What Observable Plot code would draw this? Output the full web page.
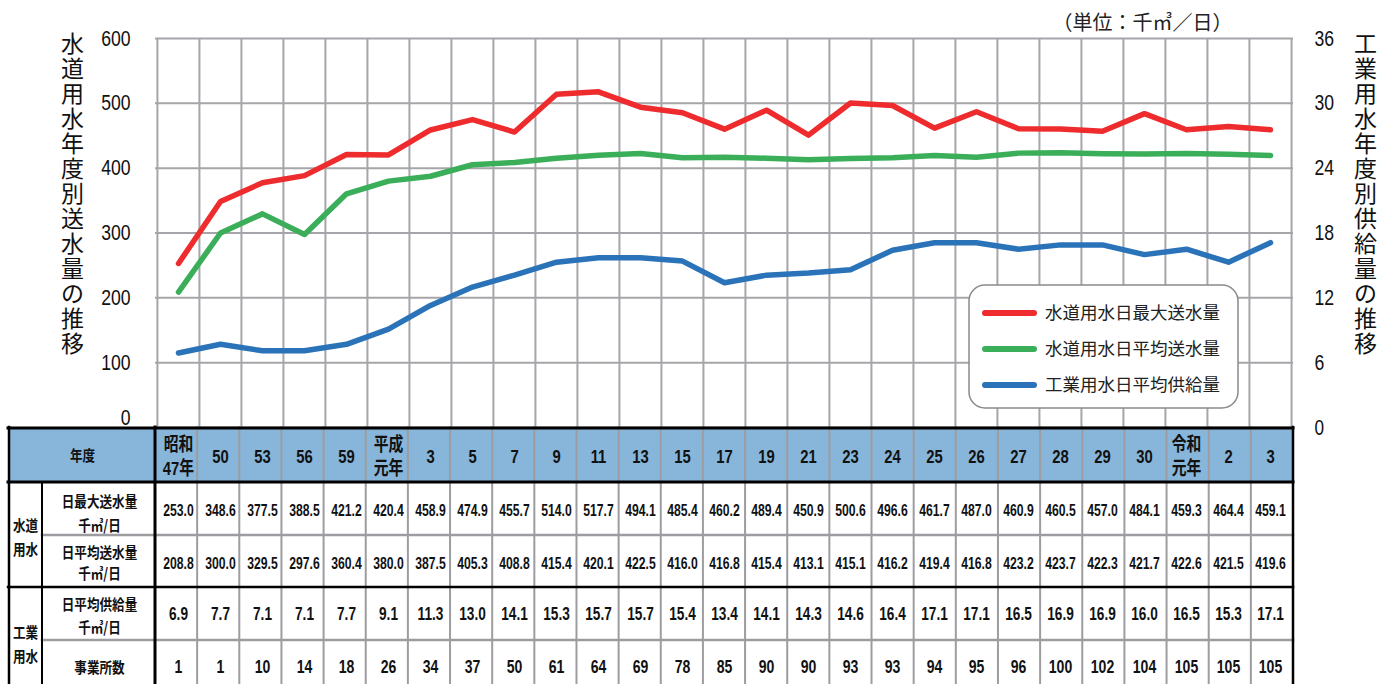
<!DOCTYPE html>
<html><head><meta charset="utf-8">
<script src="https://cdn.jsdelivr.net/npm/d3@7"></script>
<script src="https://cdn.jsdelivr.net/npm/@observablehq/plot@0.6"></script>
<style>body{margin:0;background:#fff} #chart{width:1392px;height:684px;overflow:hidden}</style>
</head><body><div id="chart"></div>
<script>
// ---- data ----
const yearKeys = ["昭和47","昭和50","昭和53","昭和56","昭和59","平成元","平成3","平成5","平成7","平成9","平成11","平成13","平成15","平成17","平成19","平成21","平成23","平成24","平成25","平成26","平成27","平成28","平成29","平成30","令和元","令和2","令和3"];
const yearLabels = ["昭和\n47年","50","53","56","59","平成\n元年","3","5","7","9","11","13","15","17","19","21","23","24","25","26","27","28","29","30","令和\n元年","2","3"];
const maxSupply = [253.0,348.6,377.5,388.5,421.2,420.4,458.9,474.9,455.7,514.0,517.7,494.1,485.4,460.2,489.4,450.9,500.6,496.6,461.7,487.0,460.9,460.5,457.0,484.1,459.3,464.4,459.1];
const avgSupply = [208.8,300.0,329.5,297.6,360.4,380.0,387.5,405.3,408.8,415.4,420.1,422.5,416.0,416.8,415.4,413.1,415.1,416.2,419.4,416.8,423.2,423.7,422.3,421.7,422.6,421.5,419.6];
const industrial = [6.9,7.7,7.1,7.1,7.7,9.1,11.3,13.0,14.1,15.3,15.7,15.7,15.4,13.4,14.1,14.3,14.6,16.4,17.1,17.1,16.5,16.9,16.9,16.0,16.5,15.3,17.1];
const facilities = [1,1,10,14,18,26,34,37,50,61,64,69,78,85,90,90,93,93,94,95,96,100,102,104,105,105,105];
const seriesNames = ["水道用水日最大送水量","水道用水日平均送水量","工業用水日平均供給量"];
const seriesColors = ["#ee2b2d","#3bae5a","#2b73b9"];
const leftTicks = [0,100,200,300,400,500,600];
const rightTicks = [0,6,12,18,24,30,36];
const leftTitle = "水道用水年度別送水量の推移";
const rightTitle = "工業用水年度別供給量の推移";
const unitText = "（単位：千㎥／日）";
const rowLabels = ["日最大送水量\n千㎥/日","日平均送水量\n千㎥/日","日平均供給量\n千㎥/日","事業所数"];
const groupLabels = ["水道\n用水","工業\n用水"];
const headerLabel = "年度";

// ---- layout ----
const W = 1392, H = 684, mL = 155, mR = 99, mT = 38, mB = 257;
const step = (W - mL - mR) / yearKeys.length;
const k = 600 / 36;
const NUMF = "'Liberation Sans',Arial,'Noto Sans CJK JP',sans-serif";
const CJK = "'Noto Sans CJK JP','Noto Sans',sans-serif";
const GRID = "#a6a6aa";
const frameBottom = H - mB;

const long = yearKeys.flatMap((y, i) => [
  {year: y, series: seriesNames[0], value: maxSupply[i]},
  {year: y, series: seriesNames[1], value: avgSupply[i]},
  {year: y, series: seriesNames[2], value: industrial[i] * k}
]);
const fmt1 = v => v.toFixed(1);

const rowText = (vals, f, y, size) => Plot.text(yearKeys, {
  x: d => d, text: (d, i) => f(vals[i]), frameAnchor: "bottom", dy: y - frameBottom,
  lineAnchor: "middle", textAnchor: "middle",
  fontSize: size, fontWeight: "bold", fontFamily: NUMF, fill: "#111"
});
const labelText = (txt, cx, cy, size, lh) => Plot.text([txt], {
  text: d => d, frameAnchor: "bottom-left", dx: cx - mL, dy: cy - frameBottom,
  lineAnchor: "middle", textAnchor: "middle",
  fontSize: size, fontWeight: "bold", fontFamily: CJK, fill: "#111", lineHeight: lh
});

const plot = Plot.plot({
  width: W, height: H,
  marginLeft: mL, marginRight: mR, marginTop: mT, marginBottom: mB,
  x: {type: "point", domain: yearKeys, padding: 0.5, axis: null},
  y: {domain: [0, 600], axis: null},
  color: {domain: seriesNames, range: seriesColors},
  style: {fontFamily: CJK, background: "#fff"},
  marks: [
    Plot.ruleY(leftTicks, {stroke: GRID, strokeWidth: 2}),
    Plot.ruleX(yearKeys, {x: d => d, dx: -step / 2, stroke: GRID, strokeWidth: 2}),
    Plot.ruleX([yearKeys[yearKeys.length - 1]], {x: d => d, dx: step / 2, stroke: GRID, strokeWidth: 2}),
    Plot.line(long, {x: "year", y: "value", z: "series", stroke: "series", strokeWidth: 5.5, strokeLinecap: "round", strokeLinejoin: "round"}),
    Plot.axisY(leftTicks.filter(d => d > 0), {anchor: "left", label: null, tickSize: 0, tickPadding: 25, fontSize: 22, fontFamily: NUMF, color: "#111"}),
    Plot.axisY([0], {anchor: "left", label: null, tickSize: 0, tickPadding: 25, fontSize: 22, fontFamily: NUMF, dy: -10, color: "#111"}),
    Plot.axisY(rightTicks.map(d => d * k), {anchor: "right", label: null, tickSize: 0, tickPadding: 21, fontSize: 22, fontFamily: NUMF, tickFormat: d => Math.round(d / k), color: "#111"}),
    Plot.text([leftTitle], {text: d => d.split("").join("\n"), frameAnchor: "top-left", dx: 72 - mL, dy: -4, textAnchor: "middle", lineAnchor: "top", lineHeight: 1.085, fontSize: 23, fill: "#111"}),
    Plot.text([rightTitle], {text: d => d.split("").join("\n"), frameAnchor: "top-right", dx: 72, dy: -4, textAnchor: "middle", lineAnchor: "top", lineHeight: 1.085, fontSize: 23, fill: "#111"}),
    Plot.text([unitText], {text: d => d, frameAnchor: "top-right", dx: 1142 - (W - mR), dy: 23 - mT, textAnchor: "middle", lineAnchor: "middle", fontSize: 20, fill: "#222"}),
    // table text
    Plot.text(yearKeys, {x: d => d, text: (d, i) => yearLabels[i], frameAnchor: "bottom", dy: 455 - frameBottom, lineAnchor: "middle", textAnchor: "middle", fontSize: 19, fontWeight: "bold", fontFamily: NUMF, lineHeight: 1.25, fill: "#111"}),
    rowText(maxSupply, fmt1, 510, 16.5),
    rowText(avgSupply, fmt1, 563, 16.5),
    rowText(industrial, fmt1, 614, 17.5),
    rowText(facilities, d => String(d), 667, 18),
    labelText(headerLabel, 82, 455, 15, 1.2),
    labelText(rowLabels[0], 99, 511, 15, 1.55),
    labelText(rowLabels[1], 99, 561, 15, 1.4),
    labelText(rowLabels[2], 99, 614, 15, 1.5),
    labelText(rowLabels[3], 99, 667, 15, 1.2),
    labelText(groupLabels[0], 25, 535, 15, 1.55),
    labelText(groupLabels[1], 25, 642, 15, 1.6)
  ]
});

const svg = d3.select(plot);

// ---- table structure & legend ----
const x0 = 8, xR = W - mR, yT = frameBottom, yB = H;
const under = svg.insert("g", ":first-child");
under.append("rect").attr("x", x0).attr("y", yT).attr("width", xR - x0).attr("height", 482 - yT).attr("fill", "#88b5da");
const grid = svg.append("g").attr("stroke-linecap", "square");
for (let i = 1; i < yearKeys.length; i++) {
  const xx = mL + i * step;
  grid.append("line").attr("x1", xx).attr("x2", xx).attr("y1", yT).attr("y2", yB).attr("stroke", "#9d9da1").attr("stroke-width", 2);
}
[535, 640].forEach(yy => grid.append("line").attr("x1", 42).attr("x2", xR).attr("y1", yy).attr("y2", yy).attr("stroke", "#9d9da1").attr("stroke-width", 2.5));
const black = (x1, y1, x2, y2, w) => grid.append("line").attr("x1", x1).attr("y1", y1).attr("x2", x2).attr("y2", y2).attr("stroke", "#000").attr("stroke-width", w);
black(x0, yT + 1, xR, yT + 1, 3);
black(x0, 482, xR, 482, 3);
black(x0, 587, xR, 587, 2.5);
black(x0 + 1, yT, x0 + 1, yB, 2.5);
black(xR, yT, xR, yB, 2.5);
black(mL, yT, mL, yB, 3);
black(42, 482, 42, yB, 2);

const lg = svg.append("g").attr("class", "legendbox").attr("text-anchor", "start");
lg.append("rect").attr("x", 969).attr("y", 285).attr("width", 269).attr("height", 123).attr("rx", 16).attr("fill", "#fff").attr("stroke", "#8a8a8e").attr("stroke-width", 1.5);
seriesNames.forEach((n, i) => {
  const yy = 313 + i * 36;
  lg.append("line").attr("x1", 985).attr("x2", 1034).attr("y1", yy).attr("y2", yy).attr("stroke", seriesColors[i]).attr("stroke-width", 6).attr("stroke-linecap", "round");
  lg.append("text").attr("x", 1045).attr("y", yy).attr("dy", "0.36em").attr("text-anchor", "start").attr("font-size", 17.5).attr("font-family", "'Noto Sans CJK JP',sans-serif").attr("fill", "#222").text(n);
});

document.getElementById("chart").appendChild(plot);

// ---- condense numeric / table text (narrow look of the original) ----
const box = plot.getBoundingClientRect();
function squeezeNode(node, s) {
  const tr = node.getAttribute("transform") || "";
  const xa = node.getAttribute("x");
  const xn = xa !== null && /^-?[0-9.]+$/.test(xa.trim()) ? +xa : 0;
  if (xn !== 0) {
    node.setAttribute("x", 0);
    node.querySelectorAll("tspan").forEach(t => {
      const tx = t.getAttribute("x");
      if (tx !== null && /^-?[0-9.]+$/.test(tx.trim())) t.setAttribute("x", +tx - xn);
    });
  }
  node.setAttribute("transform", `${tr} translate(${xn},0) scale(${s},1)`.trim());
}
const todo = [];
plot.querySelectorAll("text").forEach(node => {
  if (node.closest(".legendbox")) return;
  const r = node.getBoundingClientRect();
  const cx = (r.left + r.right) / 2 - box.left, cy = (r.top + r.bottom) / 2 - box.top;
  const txt = node.textContent;
  let s = null;
  const isCJKLabel = /[日量業数度道水]/.test(txt);
  if (cy > 427) {
    if (cx < 155) s = isCJKLabel ? 0.84 : null;
    else if (cy < 484) s = 0.78;
    else if (cy < 590) s = 0.74;
    else s = 0.78;
  } else if (/^[0-9]+$/.test(txt) && (cx < 155 || cx > 1293)) s = 0.8;
  if (s) todo.push([node, s]);
});
todo.forEach(([n, s]) => squeezeNode(n, s));
</script>
</body></html>
